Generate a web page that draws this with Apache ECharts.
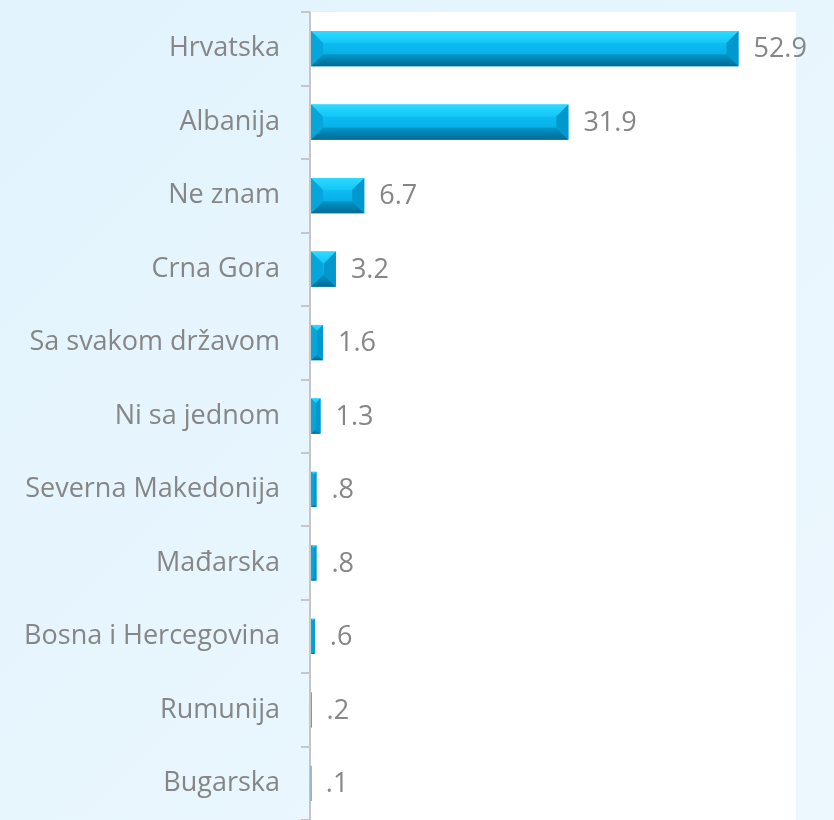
<!DOCTYPE html>
<html>
<head>
<meta charset="utf-8">
<script src="https://cdn.jsdelivr.net/npm/echarts@6/dist/echarts.min.js"></script>
<style>
  html, body { margin: 0; padding: 0; }
  #chart { width: 834px; height: 820px; }
</style>
</head>
<body>
<div id="chart"></div>
<script>
  // categories top to bottom
  var countries = ['Hrvatska', 'Albanija', 'Ne znam', 'Crna Gora', 'Sa svakom državom', 'Ni sa jednom',
    'Severna Makedonija', 'Mađarska', 'Bosna i Hercegovina', 'Rumunija', 'Bugarska']
  var shares = [52.9, 31.9, 6.7, 3.2, 1.6, 1.3, 0.8, 0.8, 0.6, 0.2, 0.1]

  var labelColor = '#868686'
  var fontFamily = '"Open Sans", "Noto Sans", sans-serif'

  function fmt(v) {
    return String(v).replace(/^0\./, '.')
  }

  // bevelled bar: centre + four facets
  function renderBar(params, api) {
    var v = api.value(0)
    var i = api.value(1)
    var start = api.coord([0, i])
    var end = api.coord([v, i])
    var h = api.size([0, 1])[1] * 0.48
    var x0 = start[0] + 1, x1 = end[0]
    var y0 = start[1] - h / 2, y1 = start[1] + h / 2
    var w = Math.max(x1 - x0, 0.5)
    var b = Math.min(12, w / 2, h / 2)
    var kids = [
      {type: 'rect', shape: {x: x0, y: y0, width: w, height: h},
        style: {fill: new echarts.graphic.LinearGradient(0, 0, 0, 1, [
          {offset: 0, color: '#14c8fb'}, {offset: 1, color: '#00a4dc'}])}},
      {type: 'polygon', shape: {points: [[x0, y0], [x1, y0], [x1 - b, y0 + b], [x0 + b, y0 + b]]},
        style: {fill: new echarts.graphic.LinearGradient(0, 0, 0, 1, [
          {offset: 0, color: '#2edaff'}, {offset: 1, color: '#12c6f6'}])}},
      {type: 'polygon', shape: {points: [[x0, y1], [x1, y1], [x1 - b, y1 - b], [x0 + b, y1 - b]]},
        style: {fill: new echarts.graphic.LinearGradient(0, 0, 0, 1, [
          {offset: 0, color: '#0096c9'}, {offset: 1, color: '#006a94'}])}},
      {type: 'polygon', shape: {points: [[x0, y0], [x0 + b, y0 + b], [x0 + b, y1 - b], [x0, y1]]},
        style: {fill: '#04a6dc'}},
      {type: 'polygon', shape: {points: [[x1, y0], [x1 - b, y0 + b], [x1 - b, y1 - b], [x1, y1]]},
        style: {fill: '#0398cd'}},
      {type: 'text', x: x1 + 15, y: start[1] + 1,
        style: {text: fmt(v), fill: labelColor, font: '27px ' + fontFamily,
          align: 'left', verticalAlign: 'middle'}}
    ]
    return {type: 'group', children: kids}
  }

  var myChart = echarts.init(document.getElementById('chart'))
  var myChartOption = {
    backgroundColor: new echarts.graphic.LinearGradient(0, 0, 1, 1, [
      {offset: 0, color: '#e2f3fd'}, {offset: 1, color: '#edf8fe'}]),
    animation: false,
    grid: {
      left: 310,
      right: 38,
      top: 12,
      bottom: 0,
      show: true,
      backgroundColor: '#ffffff',
      borderWidth: 0
    },
    xAxis: {
      type: 'value',
      min: 0,
      max: 60,
      show: false
    },
    yAxis: {
      type: 'category',
      data: countries,
      inverse: true,
      axisLine: {
        show: true,
        lineStyle: {color: '#c6c6c6', width: 2}
      },
      axisTick: {
        show: true,
        length: 9,
        lineStyle: {color: '#c6c6c6', width: 2}
      },
      axisLabel: {
        margin: 30,
        color: labelColor,
        fontSize: 27,
        fontFamily: fontFamily
      }
    },
    series: [{
      type: 'custom',
      renderItem: renderBar,
      encode: {x: 0, y: 1},
      data: shares.map(function (v, i) { return [v, i] })
    }]
  }
  myChart.setOption(myChartOption)
</script>
</body>
</html>
